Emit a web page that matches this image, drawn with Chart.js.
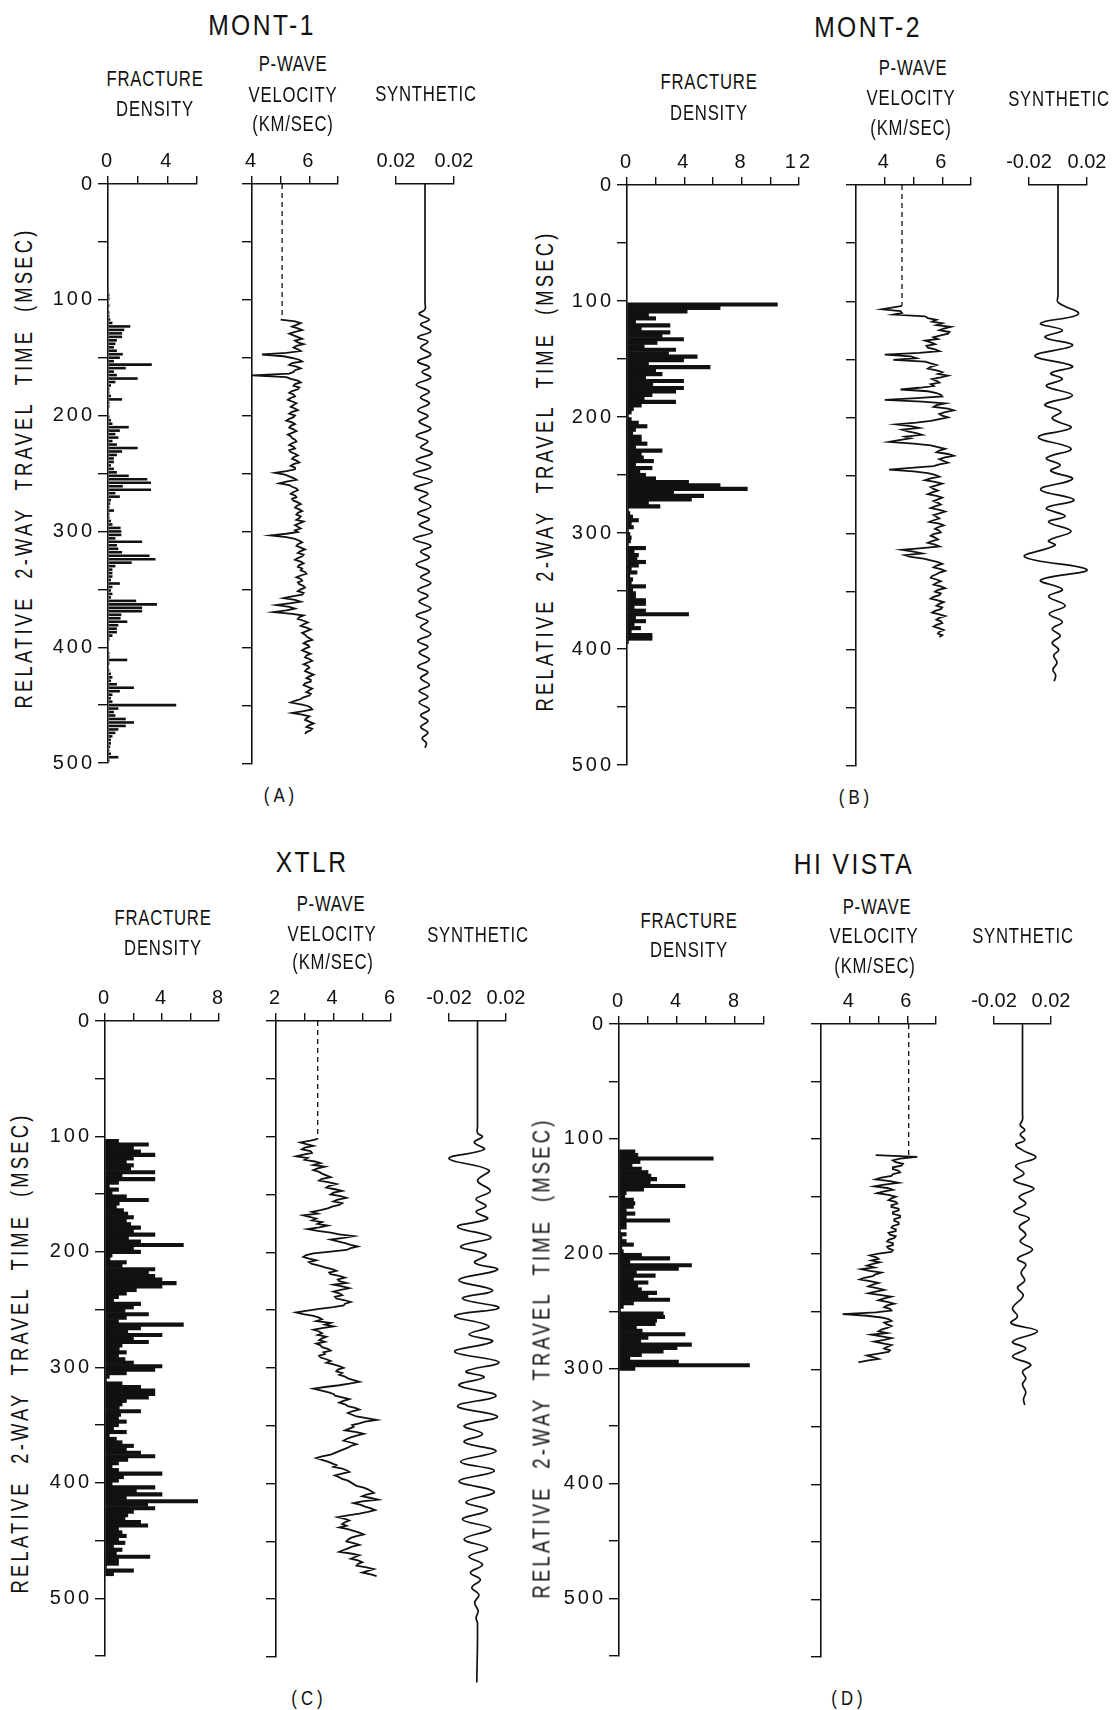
<!DOCTYPE html>
<html>
<head>
<meta charset="utf-8">
<title>Fracture density, P-wave velocity and synthetic seismograms</title>
<script src="https://cdn.jsdelivr.net/npm/chart.js@4.4.1/dist/chart.umd.min.js"></script>
<style>
  body { margin: 0; background: #fff; }
  #page { position: relative; width: 1117px; height: 1710px; overflow: hidden; background: #fff;
          font-family: 'Liberation Sans', Arial, sans-serif; color: #111; }
  #page canvas { position: absolute; }
  .lbl { position: absolute; white-space: pre; line-height: 1; z-index: 2; }
  .title { font-size: 30px; letter-spacing: 3px; transform: translate(-50%, -50%) scaleX(0.82); }
  .head { font-size: 22px; letter-spacing: 1px; transform: translate(-50%, -50%) scaleX(0.76); }
  .tag { font-size: 21px; letter-spacing: 5px; transform: translate(-50%, -50%) scaleX(0.8); }
  .ytitle { font-size: 23px; letter-spacing: 4px; transform: translate(-50%, -50%) rotate(-90deg) scaleX(0.8); }
</style>
</head>
<body>
<div id="page"></div>
<script>
const BIN = 3; // msec between fracture-log samples

// ---- MONT-1 ----
const montOneFracT0 = 96;
const montOneFrac = [
  0.1, 0.1, 0.05, 0.1, 0.05, 0.1, 0.1, 0.15, 0.3, 1.5,
  1.1, 0.95, 0.95, 0.6, 0.5, 0.4, 0.6, 1.0, 0.8, 0.4,
  2.95, 1.2, 0.4, 0.6, 2.0, 0.5, 0.2, 0.1, 0.1, 0.2,
  0.95, 0.1, 0.1, 0.05, 0.05, 0.1, 0.2, 0.3, 1.4, 0.8,
  0.5, 0.7, 0.3, 0.6, 2.0, 0.95, 0.6, 0.4, 0.4, 0.2,
  0.4, 0.6, 1.4, 2.65, 2.9, 1.0, 2.9, 0.5, 0.8, 0.2,
  0.15, 0.1, 0.4, 0.1, 0.1, 0.2, 0.3, 0.85, 0.9, 0.9,
  0.5, 2.3, 0.6, 0.7, 0.95, 2.8, 3.2, 1.6, 0.5, 0.3,
  0.3, 0.3, 0.2, 0.8, 0.3, 0.2, 0.3, 0.2, 1.9, 3.3,
  2.3, 2.3, 0.9, 0.85, 1.3, 0.7, 0.6, 0.6, 0.3, 0.1,
  0.05, 0.05, 0.05, 0.1, 0.1, 1.3, 0.1, 0.05, 0.1, 0.2,
  0.3, 0.2, 0.6, 1.75, 0.8, 0.3, 0.2, 0.3, 4.6, 0.7,
  0.4, 0.5, 1.2, 1.75, 1.2, 0.7, 0.5, 0.3, 0.2, 0.2,
  0.15, 0.1, 0.2, 0.7, 0.1
];
const montOneVelT0 = 117, montOneVelStep = 1.5;
const montOneVel = [
  5.0, 5.5, 5.7, 5.55, 5.4, 5.6, 5.75, 5.5, 5.3, 5.45, 5.6, 5.75, 5.5, 5.6, 5.8, 5.55, 5.45, 5.6, 5.7, 5.2,
  4.35, 5.1, 5.4, 5.65, 5.75, 5.4, 5.3, 5.55, 5.7, 5.5, 5.45, 5.3, 4.0, 5.2, 5.35, 5.6, 5.7, 5.5, 5.45, 5.65,
  5.6, 5.4, 5.3, 5.45, 5.5, 5.35, 5.25, 5.4, 5.55, 5.45, 5.35, 5.5, 5.6, 5.4, 5.3, 5.5, 5.45, 5.3, 5.2, 5.4,
  5.5, 5.35, 5.3, 5.45, 5.55, 5.4, 5.25, 5.35, 5.4, 5.5, 5.55, 5.4, 5.3, 5.45, 5.5, 5.3, 5.35, 5.5, 5.6, 5.45,
  5.4, 5.55, 5.65, 5.45, 5.35, 5.5, 5.5, 5.2, 4.8, 5.15, 5.3, 5.45, 5.55, 5.2, 4.95, 5.3, 5.4, 5.55, 5.6, 5.45,
  5.35, 5.5, 5.55, 5.4, 5.45, 5.6, 5.7, 5.55, 5.5, 5.65, 5.75, 5.6, 5.55, 5.7, 5.65, 5.55, 5.8, 5.65, 5.5, 5.6,
  5.7, 5.5, 5.6, 5.2, 4.65, 5.2, 5.5, 5.65, 5.75, 5.6, 5.55, 5.7, 5.85, 5.7, 5.6, 5.8, 5.75, 5.6, 5.5, 5.7,
  5.8, 5.65, 5.6, 5.75, 5.7, 5.85, 5.9, 5.7, 5.55, 5.7, 5.75, 5.6, 5.65, 5.8, 5.85, 5.7, 5.6, 5.8, 5.75, 5.4,
  5.1, 5.5, 5.7, 5.3, 4.85, 5.3, 5.5, 5.2, 4.75, 5.4, 5.8, 5.65, 5.6, 5.8, 5.95, 5.8, 5.7, 5.9, 6.05, 5.9,
  5.75, 5.85, 5.9, 6.0, 6.1, 5.9, 5.8, 5.95, 6.0, 5.85, 5.75, 5.9, 6.05, 5.9, 5.85, 6.0, 6.1, 5.95, 5.8, 5.95,
  6.0, 5.9, 5.85, 6.0, 6.15, 6.0, 5.9, 6.05, 6.05, 5.85, 5.8, 5.95, 6.1, 6.0, 5.9, 6.05, 6.0, 5.8, 5.7, 5.5,
  5.35, 5.7, 5.95, 6.05, 6.1, 5.8, 5.4, 5.75, 6.0, 5.9, 5.85, 6.0, 6.15, 6.0, 5.9, 6.1, 6.05, 5.9, 5.85
];
const montOneVelAbove = 5.05;
const montOneSyn = [
  [0, 0], [102, 0], [108, 0], [112, -0.004], [117, 0.003], [121, -0.003], [127, 0.004], [132, -0.005],
  [136, 0.002], [141, -0.003], [147, 0.004], [153, -0.005], [158, 0.003], [162, -0.002], [167, 0.004],
  [173, -0.006], [179, 0.003], [184, -0.003], [189, 0.003], [195, -0.005], [200, 0.002], [205, -0.004],
  [211, 0.004], [217, -0.006], [222, 0.002], [227, -0.003], [232, 0.005], [238, -0.006], [244, 0.004],
  [250, -0.008], [256, 0.005], [262, -0.007], [267, 0.002], [272, -0.004], [278, 0.004], [284, -0.005],
  [289, 0.003], [294, -0.004], [300, 0.005], [306, -0.008], [312, 0.004], [317, -0.003], [322, 0.003],
  [328, -0.006], [334, 0.003], [339, -0.003], [344, 0.004], [350, -0.005], [355, 0.002], [360, -0.004],
  [366, 0.004], [372, -0.006], [377, 0.002], [382, -0.003], [388, 0.004], [394, -0.005], [399, 0.002],
  [404, -0.004], [410, 0.003], [416, -0.005], [421, 0.002], [426, -0.003], [432, 0.003], [437, -0.004],
  [442, 0.002], [447, -0.004], [453, 0.003], [458, -0.003], [463, 0.002], [468, -0.003], [473, 0.002],
  [478, -0.002], [482, 0.001], [486, 0]
];
const montOneFracTicks = [0, 2, 4, 6], montOneFracLabels = ['0', '', '4', ''];
const montOneVelTicks = [4, 5, 6, 7], montOneVelLabels = ['4', '', '6', ''];
const montOneSynLabels = ['0.02', '0.02'];

// ---- MONT-2 ----
const montTwoFracT0 = 103;
const montTwoFrac = [
  10.5, 6.5, 4.2, 1.5, 2.0, 0.6, 3.0, 1.0, 3.0, 2.45,
  3.95, 2.1, 1.2, 3.4, 2.9, 4.9, 3.95, 1.5, 5.8, 2.0,
  2.45, 1.3, 3.95, 1.8, 3.95, 3.4, 1.75, 1.2, 3.4, 1.0,
  0.45, 0.3, 0.1, 0.3, 0.8, 1.4, 0.6, 0.4, 1.0, 1.0,
  1.4, 0.6, 2.45, 1.0, 1.15, 1.85, 0.6, 1.75, 0.9, 1.3,
  2.0, 4.3, 6.5, 8.4, 3.25, 5.35, 4.5, 1.5, 2.3, 0.1,
  0.2, 0.4, 0.8, 0.3, 0.45, 0.1, 0.2, 0.3, 0.25, 0.1,
  1.3, 0.5, 0.8, 0.7, 1.3, 0.8, 0.3, 0.7, 0.2, 0.4,
  0.3, 1.3, 0.4, 0.6, 0.6, 1.3, 1.3, 0.5, 1.3, 4.3,
  0.6, 1.3, 0.5, 0.95, 0.3, 1.75, 1.75, 0.1
];
const montTwoVelT0 = 104, montTwoVelStep = 1.5;
const montTwoVel = [
  4.6, 4.25, 3.9, 4.55, 4.6, 4.3, 5.4, 5.5, 5.8, 5.65, 6.0, 5.8, 6.3, 6.05, 5.9, 6.25, 6.2, 5.95, 5.7, 5.85,
  5.4, 5.6, 5.75, 5.45, 5.5, 5.75, 5.9, 5.2, 4.0, 4.9, 5.1, 4.3, 5.4, 5.6, 5.8, 5.6, 5.5, 5.8, 6.0, 5.85,
  6.2, 5.95, 5.65, 5.8, 5.9, 5.6, 5.7, 5.2, 4.55, 5.5, 5.8, 5.95, 6.0, 5.1, 4.0, 5.3, 6.1, 5.8, 5.7, 6.2,
  6.4, 6.1, 5.9, 6.0, 6.2, 5.9, 5.6, 5.1, 4.4, 4.9, 5.2, 4.6, 4.8, 5.1, 5.3, 4.7, 4.9, 4.5, 4.15, 5.0,
  5.6, 5.85, 6.1, 5.9, 5.8, 6.2, 6.4, 6.1, 5.9, 6.05, 6.2, 5.9, 5.7, 4.9, 4.15, 5.0, 5.5, 5.75, 5.9, 5.6,
  5.4, 5.75, 6.0, 5.8, 5.6, 5.7, 5.85, 5.65, 5.5, 5.8, 6.0, 5.85, 5.7, 5.85, 5.95, 5.75, 5.6, 5.9, 6.1, 5.9,
  5.7, 5.8, 5.9, 5.7, 5.55, 5.9, 6.05, 5.85, 5.75, 5.9, 5.95, 5.7, 5.6, 5.75, 5.85, 5.65, 5.5, 5.75, 5.9, 5.3,
  4.6, 5.0, 5.3, 4.7, 4.9, 5.35, 5.6, 5.85, 6.0, 5.8, 5.7, 5.95, 6.1, 5.9, 5.8, 5.65, 5.6, 5.8, 5.95, 5.8,
  5.7, 5.95, 6.1, 5.85, 5.75, 5.95, 5.9, 5.7, 5.6, 5.85, 6.05, 5.9, 5.8, 6.0, 5.95, 5.75, 5.65, 5.9, 6.1, 5.9,
  5.8, 5.95, 6.0, 5.8, 5.7, 5.9, 6.05, 5.9, 5.85, 6.0, 5.9
];
const montTwoVelAbove = 4.6;
const montTwoSyn = [
  [0, 0], [95, 0], [101, 0], [111, 0.014], [119, -0.012], [125, 0.003], [131, -0.009], [138, 0.010],
  [147, -0.016], [156, 0.010], [162, -0.005], [167, 0.003], [173, -0.008], [181, 0.010], [189, -0.009],
  [195, 0.002], [201, -0.004], [209, 0.009], [217, -0.0135], [227, 0.009], [235, -0.008], [241, 0.0015],
  [246, -0.005], [253, 0.010], [262, -0.012], [271, 0.011], [278, -0.008], [285, 0.005], [290, -0.0065],
  [298, 0.009], [306, -0.0065], [310, -0.002], [320, -0.023], [331, 0.020], [340, -0.012], [348, 0.003],
  [354, -0.0065], [362, 0.005], [369, -0.006], [376, 0.003], [382, -0.004], [388, 0.0015], [394, -0.004],
  [400, 0.0005], [405, -0.003], [411, -0.0007], [417, -0.0035], [422, -0.0016], [427, -0.0026]
];
const montTwoFracTicks = [0, 2, 4, 6, 8, 10, 12], montTwoFracLabels = ['0', '', '4', '', '8', '', '12'];
const montTwoVelTicks = [4, 5, 6, 7], montTwoVelLabels = ['4', '', '6', ''];
const montTwoSynLabels = ['-0.02', '0.02'];

// ---- XTLR ----
const xtlrFracT0 = 104;
const xtlrFrac = [
  0.95, 3.05, 2.0, 2.5, 3.5, 2.0, 1.5, 2.0, 1.8, 3.5,
  1.2, 3.5, 0.95, 0.3, 0.95, 0.5, 1.5, 3.05, 1.0, 0.8,
  1.3, 1.6, 2.0, 1.5, 1.8, 2.5, 2.0, 3.5, 1.65, 2.5,
  5.5, 2.0, 2.5, 0.5, 0.35, 1.5, 1.2, 3.5, 3.05, 3.5,
  4.0, 5.0, 4.0, 2.2, 1.5, 0.95, 0.6, 2.5, 2.0, 1.4,
  3.05, 1.5, 0.95, 5.5, 2.5, 1.6, 4.0, 2.0, 3.05, 1.2,
  1.0, 1.5, 0.95, 1.4, 2.0, 4.0, 3.5, 1.5, 0.3, 0.1,
  1.2, 2.5, 3.5, 3.5, 3.05, 1.5, 1.2, 1.0, 2.5, 1.1,
  0.95, 1.5, 0.95, 0.6, 1.5, 0.3, 0.8, 1.2, 2.0, 1.5,
  2.5, 3.5, 1.6, 0.95, 0.5, 0.95, 4.0, 1.3, 0.95, 0.5,
  3.5, 2.2, 4.0, 1.5, 6.5, 3.0, 3.5, 2.0, 1.6, 1.4,
  2.5, 3.0, 0.95, 1.2, 1.5, 0.95, 1.4, 0.6, 1.2, 0.8,
  3.15, 0.95, 0.95, 0.1, 2.0, 0.6
];
const xtlrVelT0 = 102, xtlrVelStep = 1.5;
const xtlrVel = [
  3.45, 3.2, 2.85, 3.05, 3.3, 3.0, 2.9, 3.2, 3.25, 2.95, 2.7, 3.1, 3.0, 3.35, 3.55, 3.3, 3.7, 3.45, 3.3, 3.5,
  3.6, 3.75, 3.9, 3.6, 3.5, 3.85, 4.1, 3.85, 3.75, 4.05, 4.3, 4.0, 3.9, 4.25, 4.45, 4.15, 4.0, 4.3, 4.2, 3.95,
  3.8, 3.55, 3.25, 3.45, 2.95, 3.2, 3.4, 3.25, 3.6, 3.45, 3.8, 3.5, 3.1, 3.45, 3.9, 4.2, 4.7, 4.35, 3.9, 4.15,
  4.4, 4.6, 4.85, 4.6, 4.45, 3.9, 3.3, 3.05, 2.95, 3.15, 3.4, 3.15, 3.25, 3.5, 3.7, 3.95, 4.1, 3.85, 3.9, 4.2,
  4.4, 4.15, 4.2, 4.45, 4.0, 4.3, 4.55, 4.25, 4.0, 4.2, 4.3, 4.05, 4.1, 4.4, 4.6, 4.4, 4.35, 4.0, 3.5, 3.1,
  2.7, 2.95, 3.3, 3.5, 3.6, 3.4, 3.9, 3.7, 4.0, 3.6, 3.3, 3.5, 3.6, 3.45, 3.75, 3.6, 3.5, 3.7, 3.4, 3.55,
  3.6, 3.8, 3.9, 3.65, 3.7, 3.5, 3.55, 3.75, 3.9, 3.75, 4.0, 4.2, 4.35, 4.15, 4.1, 4.3, 4.2, 4.4, 4.5, 4.7,
  4.9, 4.55, 4.2, 3.7, 3.3, 3.55, 3.8, 4.0, 4.05, 4.3, 4.55, 4.35, 4.2, 4.4, 4.5, 4.75, 4.9, 4.65, 4.5, 4.65,
  4.8, 5.15, 5.5, 5.1, 4.9, 4.65, 4.7, 4.55, 4.4, 4.8, 5.05, 4.8, 4.6, 4.45, 4.35, 4.6, 4.8, 4.6, 4.5, 4.35,
  4.2, 4.05, 3.9, 3.6, 3.4, 3.6, 3.8, 3.95, 4.1, 4.0, 4.3, 4.45, 4.55, 4.3, 4.05, 4.2, 4.3, 4.5, 4.6, 4.7,
  4.8, 5.05, 5.2, 5.3, 5.4, 5.15, 5.0, 5.3, 5.55, 5.0, 4.7, 4.95, 5.1, 5.3, 5.45, 5.2, 4.9, 4.5, 4.15, 4.4,
  4.55, 4.4, 4.3, 4.45, 4.2, 4.5, 4.7, 4.9, 5.05, 4.8, 4.6, 4.5, 4.45, 4.7, 4.9, 4.65, 4.5, 4.35, 4.2, 4.6,
  4.9, 4.75, 4.6, 4.85, 5.0, 4.85, 4.8, 5.15, 5.4, 5.2, 5.0, 5.3, 5.5
];
const xtlrVelAbove = 3.45;
const xtlrSyn = [
  [0, 0], [91, 0], [97, 0], [100, 0.0035], [105, -0.0023], [111, 0.0047], [119, -0.02], [129, 0.008],
  [138, 0.0], [147, 0.009], [154, -0.001], [160, 0.006], [165, -0.001], [171, 0.007], [178, -0.014],
  [187, 0.0094], [195, -0.0118], [202, 0.006], [209, -0.002], [215, 0.014], [224, -0.013], [233, 0.0106],
  [240, -0.0106], [248, 0.015], [255, -0.016], [264, 0.008], [271, -0.006], [277, 0.0106], [286, -0.016],
  [295, 0.015], [303, -0.008], [308, 0.0047], [315, -0.013], [324, 0.013], [333, -0.014], [342, 0.014],
  [350, -0.0094], [357, 0.0035], [364, -0.0094], [372, 0.013], [381, -0.0118], [389, 0.0118], [398, -0.013],
  [407, 0.0118], [416, -0.008], [423, 0.007], [431, -0.0106], [439, 0.0094], [448, -0.0094], [456, 0.007],
  [463, -0.006], [470, 0.0035], [477, -0.005], [483, 0.002], [490, -0.004], [496, 0.001], [503, -0.002],
  [510, 0.0005], [516, -0.001], [521, 0], [572, -0.0005]
];
const xtlrFracTicks = [0, 2, 4, 6, 8], xtlrFracLabels = ['0', '', '4', '', '8'];
const xtlrVelTicks = [2, 3, 4, 5, 6], xtlrVelLabels = ['2', '', '4', '', '6'];
const xtlrSynLabels = ['-0.02', '0.02'];

// ---- HI VISTA ----
const hiVistaFracT0 = 111;
const hiVistaFrac = [
  1.1, 1.3, 6.5, 1.45, 0.9, 1.55, 2.0, 2.2, 2.6, 2.15,
  4.55, 1.7, 0.5, 0.4, 1.0, 1.1, 1.0, 0.5, 1.1, 0.5,
  3.5, 0.5, 0.5, 0.1, 0.5, 0.2, 0.5, 1.0, 0.2, 0.3,
  1.55, 3.5, 0.75, 5.0, 4.1, 1.2, 2.5, 1.0, 2.0, 1.3,
  1.55, 2.6, 2.0, 3.5, 1.0, 0.3, 0.1, 3.05, 3.15, 2.6,
  2.5, 1.2, 1.6, 4.55, 2.0, 1.5, 5.0, 4.0, 3.05, 1.55,
  0.75, 4.1, 9.0, 1.1
];
const hiVistaVelT0 = 114, hiVistaVelStep = 1.5;
const hiVistaVel = [
  4.9, 6.35, 5.75, 5.5, 5.6, 5.85, 5.8, 5.5, 5.5, 5.7, 5.75, 5.5, 5.45, 5.1, 4.9, 5.4, 5.7, 5.2, 4.85, 5.3,
  5.5, 5.2, 4.95, 5.35, 5.6, 5.45, 5.35, 5.6, 5.65, 5.45, 5.45, 5.7, 5.7, 5.5, 5.5, 5.75, 5.75, 5.55, 5.55, 5.7,
  5.7, 5.5, 5.45, 5.6, 5.6, 5.35, 5.4, 5.6, 5.55, 5.35, 5.3, 5.5, 5.5, 5.3, 5.35, 5.5, 5.45, 5.0, 4.7, 4.9,
  5.0, 4.75, 5.05, 4.8, 4.6, 4.85, 4.4, 4.7, 5.1, 4.9, 4.8, 4.5, 4.35, 4.7, 5.0, 4.8, 4.65, 4.95, 5.2, 4.9,
  4.65, 5.1, 5.45, 5.2, 5.0, 5.3, 5.55, 5.3, 5.2, 5.4, 5.45, 4.9, 3.75, 4.6, 5.1, 5.35, 5.45, 5.2, 5.3, 5.45,
  5.3, 5.1, 5.0, 5.3, 4.75, 5.1, 5.45, 5.2, 4.85, 5.15, 5.45, 5.3, 5.2, 5.4, 5.35, 5.0, 4.6, 4.8, 5.0, 4.6, 4.3
];
const hiVistaVelAbove = 6.05;
const hiVistaSyn = [
  [0, 0], [77, 0], [83, 0], [88, -0.0016], [92, 0.0016], [96, -0.0016], [101, 0.0016], [105, -0.0047],
  [110, 0.0005], [116, 0.0093], [123, -0.0047], [130, 0.001], [136, -0.006], [143, 0.008], [150, -0.0023],
  [156, 0.0023], [163, -0.006], [169, 0.0047], [176, -0.0023], [183, 0.0023], [189, -0.0016], [196, 0.007],
  [204, -0.0035], [209, 0.0023], [216, -0.001], [223, 0.0016], [229, -0.0035], [236, 0.0005], [247, -0.007],
  [254, -0.0035], [260, -0.008], [267, 0.0105], [276, -0.007], [282, 0.0023], [289, -0.007], [296, 0.0058],
  [302, 0], [308, 0.0023], [313, 0], [320, 0.0023], [326, 0.0007], [331, 0.0016]
];
const hiVistaFracTicks = [0, 2, 4, 6, 8, 10], hiVistaFracLabels = ['0', '', '4', '', '8', ''];
const hiVistaVelTicks = [4, 5, 6, 7], hiVistaVelLabels = ['4', '', '6', ''];
const hiVistaSynLabels = ['-0.02', '0.02'];

const INK = '#111';
const FONT = "'Liberation Sans', Arial, sans-serif";
Chart.defaults.font.family = FONT;
Chart.defaults.color = INK;
Chart.defaults.animation = false;
Chart.defaults.plugins.legend.display = false;
Chart.defaults.plugins.tooltip.enabled = false;

// where each well's tracks sit on the sheet
const panels = [
  { y0: 184, pxMs: 1.16, tMax: 500,
    frac: { x0: 108, pxUnit: 14.8, max: 6, ticks: montOneFracTicks, labels: montOneFracLabels, t0: montOneFracT0, values: montOneFrac, barPct: 0.75 },
    vel: { x0: 252, pxUnit: 28.7, min: 4, max: 7, ticks: montOneVelTicks, labels: montOneVelLabels, t0: montOneVelT0, step: montOneVelStep, values: montOneVel, above: montOneVelAbove },
    syn: { xc: 425, half: 29, tMax: 500, labels: montOneSynLabels, trace: montOneSyn } },
  { y0: 185, pxMs: 1.161, tMax: 500,
    frac: { x0: 627, pxUnit: 14.3, max: 12, ticks: montTwoFracTicks, labels: montTwoFracLabels, t0: montTwoFracT0, values: montTwoFrac, barPct: 1 },
    vel: { x0: 856, pxUnit: 28.65, min: 3, max: 7, ticks: montTwoVelTicks, labels: montTwoVelLabels, t0: montTwoVelT0, step: montTwoVelStep, values: montTwoVel, above: montTwoVelAbove },
    syn: { xc: 1058, half: 29, tMax: 500, labels: montTwoSynLabels, trace: montTwoSyn } },
  { y0: 1021, pxMs: 1.156, tMax: 550,
    frac: { x0: 105, pxUnit: 14.2, max: 8, ticks: xtlrFracTicks, labels: xtlrFracLabels, t0: xtlrFracT0, values: xtlrFrac, barPct: 1 },
    vel: { x0: 276, pxUnit: 28.75, min: 2, max: 6, ticks: xtlrVelTicks, labels: xtlrVelLabels, t0: xtlrVelT0, step: xtlrVelStep, values: xtlrVel, above: xtlrVelAbove },
    syn: { xc: 477, half: 28.5, tMax: 575, labels: xtlrSynLabels, trace: xtlrSyn } },
  { y0: 1024, pxMs: 1.151, tMax: 550,
    frac: { x0: 619, pxUnit: 14.5, max: 10, ticks: hiVistaFracTicks, labels: hiVistaFracLabels, t0: hiVistaFracT0, values: hiVistaFrac, barPct: 1 },
    vel: { x0: 821, pxUnit: 28.7, min: 3, max: 7, ticks: hiVistaVelTicks, labels: hiVistaVelLabels, t0: hiVistaVelT0, step: hiVistaVelStep, values: hiVistaVel, above: hiVistaVelAbove },
    syn: { xc: 1023, half: 28.7, tMax: 550, labels: hiVistaSynLabels, trace: hiVistaSyn } }
];

const texts = [
  ['MONT-1', 262, 25, 'title'], ['FRACTURE', 155, 79, 'head'], ['DENSITY', 155, 109, 'head'],
  ['P-WAVE', 293, 64, 'head'], ['VELOCITY', 293, 95, 'head'], ['(KM/SEC)', 293, 124, 'head'],
  ['SYNTHETIC', 426, 94, 'head'], ['(A)', 281, 794, 'tag'],
  ['MONT-2', 868, 27, 'title'], ['FRACTURE', 709, 82, 'head'], ['DENSITY', 709, 113, 'head'],
  ['P-WAVE', 913, 68, 'head'], ['VELOCITY', 911, 98, 'head'], ['(KM/SEC)', 911, 128, 'head'],
  ['SYNTHETIC', 1059, 99, 'head'], ['(B)', 856, 796, 'tag'],
  ['XTLR', 312, 862, 'title'], ['FRACTURE', 163, 918, 'head'], ['DENSITY', 163, 948, 'head'],
  ['P-WAVE', 331, 904, 'head'], ['VELOCITY', 332, 934, 'head'], ['(KM/SEC)', 333, 962, 'head'],
  ['SYNTHETIC', 478, 935, 'head'], ['(C)', 309, 1697, 'tag'],
  ['HI VISTA', 854, 864, 'title'], ['FRACTURE', 689, 921, 'head'], ['DENSITY', 689, 950, 'head'],
  ['P-WAVE', 877, 907, 'head'], ['VELOCITY', 874, 936, 'head'], ['(KM/SEC)', 875, 966, 'head'],
  ['SYNTHETIC', 1023, 936, 'head'], ['(D)', 849, 1697, 'tag'],
  ['RELATIVE  2-WAY  TRAVEL  TIME  (MSEC)', 24, 468, 'ytitle'],
  ['RELATIVE  2-WAY  TRAVEL  TIME  (MSEC)', 545, 471, 'ytitle'],
  ['RELATIVE  2-WAY  TRAVEL  TIME  (MSEC)', 20, 1353, 'ytitle'],
  ['RELATIVE  2-WAY  TRAVEL  TIME  (MSEC)', 542, 1358, 'ytitle']
];

const page = document.getElementById('page');

// spaced-out lettering for the tick numbers
function spacedText(px) {
  return { id: 'spacedText', beforeDraw(chart) { chart.ctx.letterSpacing = px + 'px'; } };
}

function makeCanvas(left, top, w, h) {
  const c = document.createElement('canvas');
  c.width = w; c.height = h;
  c.style.left = left + 'px'; c.style.top = top + 'px';
  c.style.width = w + 'px'; c.style.height = h + 'px';
  page.appendChild(c);
  return c;
}

function topAxis(min, max, ticks, labels, height) {
  return {
    type: 'linear', position: 'top', min: min, max: max, offset: false,
    afterBuildTicks: s => { s.ticks = ticks.map(v => ({ value: v })); },
    afterFit: s => { s.height = height; },
    ticks: { callback: (v, i) => labels[i], padding: 3, autoSkip: false, maxRotation: 0, font: { size: 20 }, color: INK },
    grid: { drawOnChartArea: false, drawTicks: true, tickLength: 8, color: INK, lineWidth: 1.4, offset: false },
    border: { display: true, color: INK, width: 1.6 }
  };
}

function timeAxis(tMax, withLabels, width) {
  return {
    type: 'linear', position: 'left', reverse: true, min: 0, max: tMax, offset: false,
    afterBuildTicks: s => {
      const t = [];
      for (let v = 0; v <= tMax; v += 50) t.push({ value: v });
      s.ticks = t;
    },
    afterFit: s => { s.width = width; },
    ticks: { display: withLabels, callback: v => (v % 100 === 0 ? String(v) : ''), padding: 3, autoSkip: false, font: { size: 20 }, color: INK },
    grid: { drawOnChartArea: false, drawTicks: true, tickLength: 10, color: INK, lineWidth: 1.4, offset: false },
    border: { display: true, color: INK, width: 1.6 }
  };
}

function fractureTrack(p) {
  const f = p.frac, L = 64, T = 64, R = 14, B = 14;
  const w = Math.round(f.max * f.pxUnit), h = Math.round(p.tMax * p.pxMs);
  const cv = makeCanvas(f.x0 - L, p.y0 - T, L + w + R, T + h + B);
  new Chart(cv, {
    type: 'bar',
    data: { datasets: [{
      data: f.values.map((v, i) => ({ x: v, y: f.t0 + i * BIN })),
      backgroundColor: INK, borderWidth: 0, barPercentage: f.barPct, categoryPercentage: 1
    }] },
    options: {
      indexAxis: 'y', responsive: false, devicePixelRatio: 1, animation: false,
      layout: { padding: { left: 0, top: 0, right: R, bottom: B } },
      scales: { x: topAxis(0, f.max, f.ticks, f.labels, T), y: timeAxis(p.tMax, true, L) }
    },
    plugins: [spacedText(3)]
  });
}

function velocityTrack(p) {
  const v = p.vel, L = 22, T = 64, R = 14, B = 14;
  const w = Math.round((v.max - v.min) * v.pxUnit), h = Math.round(p.tMax * p.pxMs);
  const cv = makeCanvas(v.x0 - L, p.y0 - T, L + w + R, T + h + B);
  new Chart(cv, {
    type: 'scatter',
    data: { datasets: [
      { data: [{ x: v.above, y: 0 }, { x: v.above, y: v.t0 }], showLine: true, borderColor: INK,
        borderWidth: 1.3, borderDash: [5, 4], pointRadius: 0 },
      { data: v.values.map((val, i) => ({ x: val, y: v.t0 + i * v.step })), showLine: true, borderColor: INK,
        borderWidth: 1.8, pointRadius: 0, tension: 0 }
    ] },
    options: {
      responsive: false, devicePixelRatio: 1, animation: false,
      layout: { padding: { left: 0, top: 0, right: R, bottom: B } },
      scales: { x: topAxis(v.min, v.max, v.ticks, v.labels, T), y: timeAxis(p.tMax, false, L) }
    },
    plugins: [spacedText(3)]
  });
}

function syntheticTrack(p) {
  const s = p.syn, L = 45, T = 64, R = 45, B = 14;
  const w = Math.round(2 * s.half), h = Math.round(s.tMax * p.pxMs);
  const cv = makeCanvas(Math.round(s.xc - s.half) - L, p.y0 - T, L + w + R, T + h + B);
  new Chart(cv, {
    type: 'scatter',
    data: { datasets: [{
      data: s.trace.map(([t, a]) => ({ x: a, y: t })), showLine: true, borderColor: INK,
      borderWidth: 1.7, pointRadius: 0, tension: 0.4, clip: false
    }] },
    options: {
      responsive: false, devicePixelRatio: 1, animation: false,
      elements: { line: { capBezierPoints: false } },
      layout: { padding: { left: L, top: 0, right: R, bottom: B } },
      scales: {
        x: topAxis(-0.02, 0.02, [-0.02, 0.02], s.labels, T),
        y: { type: 'linear', display: false, reverse: true, min: 0, max: s.tMax }
      }
    },
    plugins: [spacedText(0)]
  });
}

panels.forEach(p => { fractureTrack(p); velocityTrack(p); syntheticTrack(p); });

texts.forEach(([txt, x, y, cls]) => {
  const d = document.createElement('div');
  d.className = 'lbl ' + cls;
  d.textContent = txt;
  d.style.left = x + 'px';
  d.style.top = y + 'px';
  page.appendChild(d);
});
</script>
</body>
</html>
